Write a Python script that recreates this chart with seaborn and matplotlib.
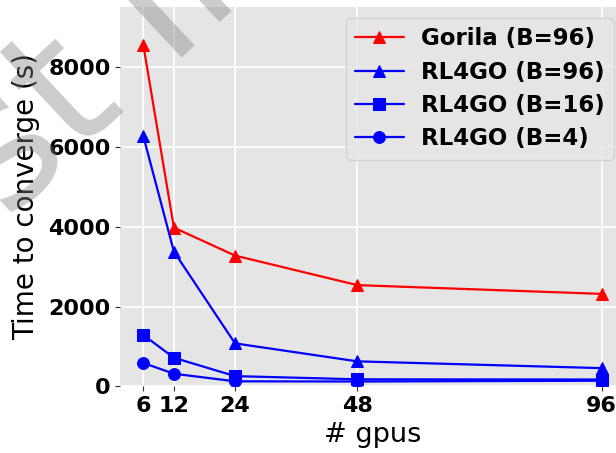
import matplotlib
matplotlib.use("Agg")
import matplotlib.pyplot as plt
import seaborn as sns
import pandas as pd

gpus = [6, 12, 24, 48, 96]
series_names = ["Gorila (B=96)", "RL4GO (B=96)", "RL4GO (B=16)", "RL4GO (B=4)"]
gorila_b96 = [8550, 3980, 3280, 2540, 2320]
rl4go_b96 = [6270, 3380, 1080, 630, 460]
rl4go_b16 = [1290, 720, 260, 180, 175]
rl4go_b4 = [590, 320, 130, 125, 145]
xticks = [6, 12, 24, 48, 96]
yticks = [0, 2000, 4000, 6000, 8000]

series_values = [gorila_b96, rl4go_b96, rl4go_b16, rl4go_b4]
colors = ["#FF0000", "#0000FF", "#0000FF", "#0000FF"]
markers = ["^", "^", "s", "o"]

sns.set_style("darkgrid", {
    "axes.facecolor": "#E5E5E5",
    "grid.color": "white",
    "axes.edgecolor": "#E5E5E5",
    "xtick.bottom": True,
    "ytick.left": True,
    "text.color": "black",
    "axes.labelcolor": "black",
})
plt.rcParams["font.family"] = ["DejaVu Sans"]

fig = plt.figure(figsize=(6.16, 4.53), dpi=100)
ax = fig.add_axes([0.1955, 0.1468, 0.8185, 0.8371])

for name, vals, c, m in zip(series_names, series_values, colors, markers):
    df = pd.DataFrame({"gpus": gpus, "time": vals})
    sns.lineplot(data=df, x="gpus", y="time", color=c, marker=m, markersize=8.5,
                 markeredgecolor=c, linewidth=1.6, label=name, ax=ax)

ax.set_xlim(1.5, 100.5)
ax.set_ylim(0, 9500)
ax.set_xticks(xticks)
ax.set_yticks(yticks)
ax.set_xticklabels([str(v) for v in xticks], fontsize=16, fontweight="bold")
ax.set_yticklabels([str(v) for v in yticks], fontsize=16, fontweight="bold")
ax.tick_params(axis="both", colors="#333333", labelcolor="black", length=3.5, width=0.8, pad=3.5)
ax.grid(True, color="white", linewidth=1.2)
ax.set_xlabel("# gpus", fontsize=19.5, labelpad=4, color="black")
ax.set_ylabel("Time to converge (s)", fontsize=20, labelpad=6, color="black")
for s in ax.spines.values():
    s.set_visible(False)

leg = ax.legend(loc="upper right", prop={"size": 16.5, "weight": "bold"},
                handlelength=2.1, handletextpad=0.75, frameon=True, fancybox=True,
                facecolor="#E5E5E5", edgecolor="#CCCCCC", framealpha=0.8,
                labelspacing=0.45, borderaxespad=0.48)
for t in leg.get_texts():
    t.set_color("black")

# watermark
fig.text(-0.215, 0.225, "Test Image", fontsize=130, color="#808080", alpha=0.4,
         rotation=43, rotation_mode="anchor", ha="left", va="baseline",
         zorder=10, family="DejaVu Sans")

fig.savefig("out.png", dpi=100)
